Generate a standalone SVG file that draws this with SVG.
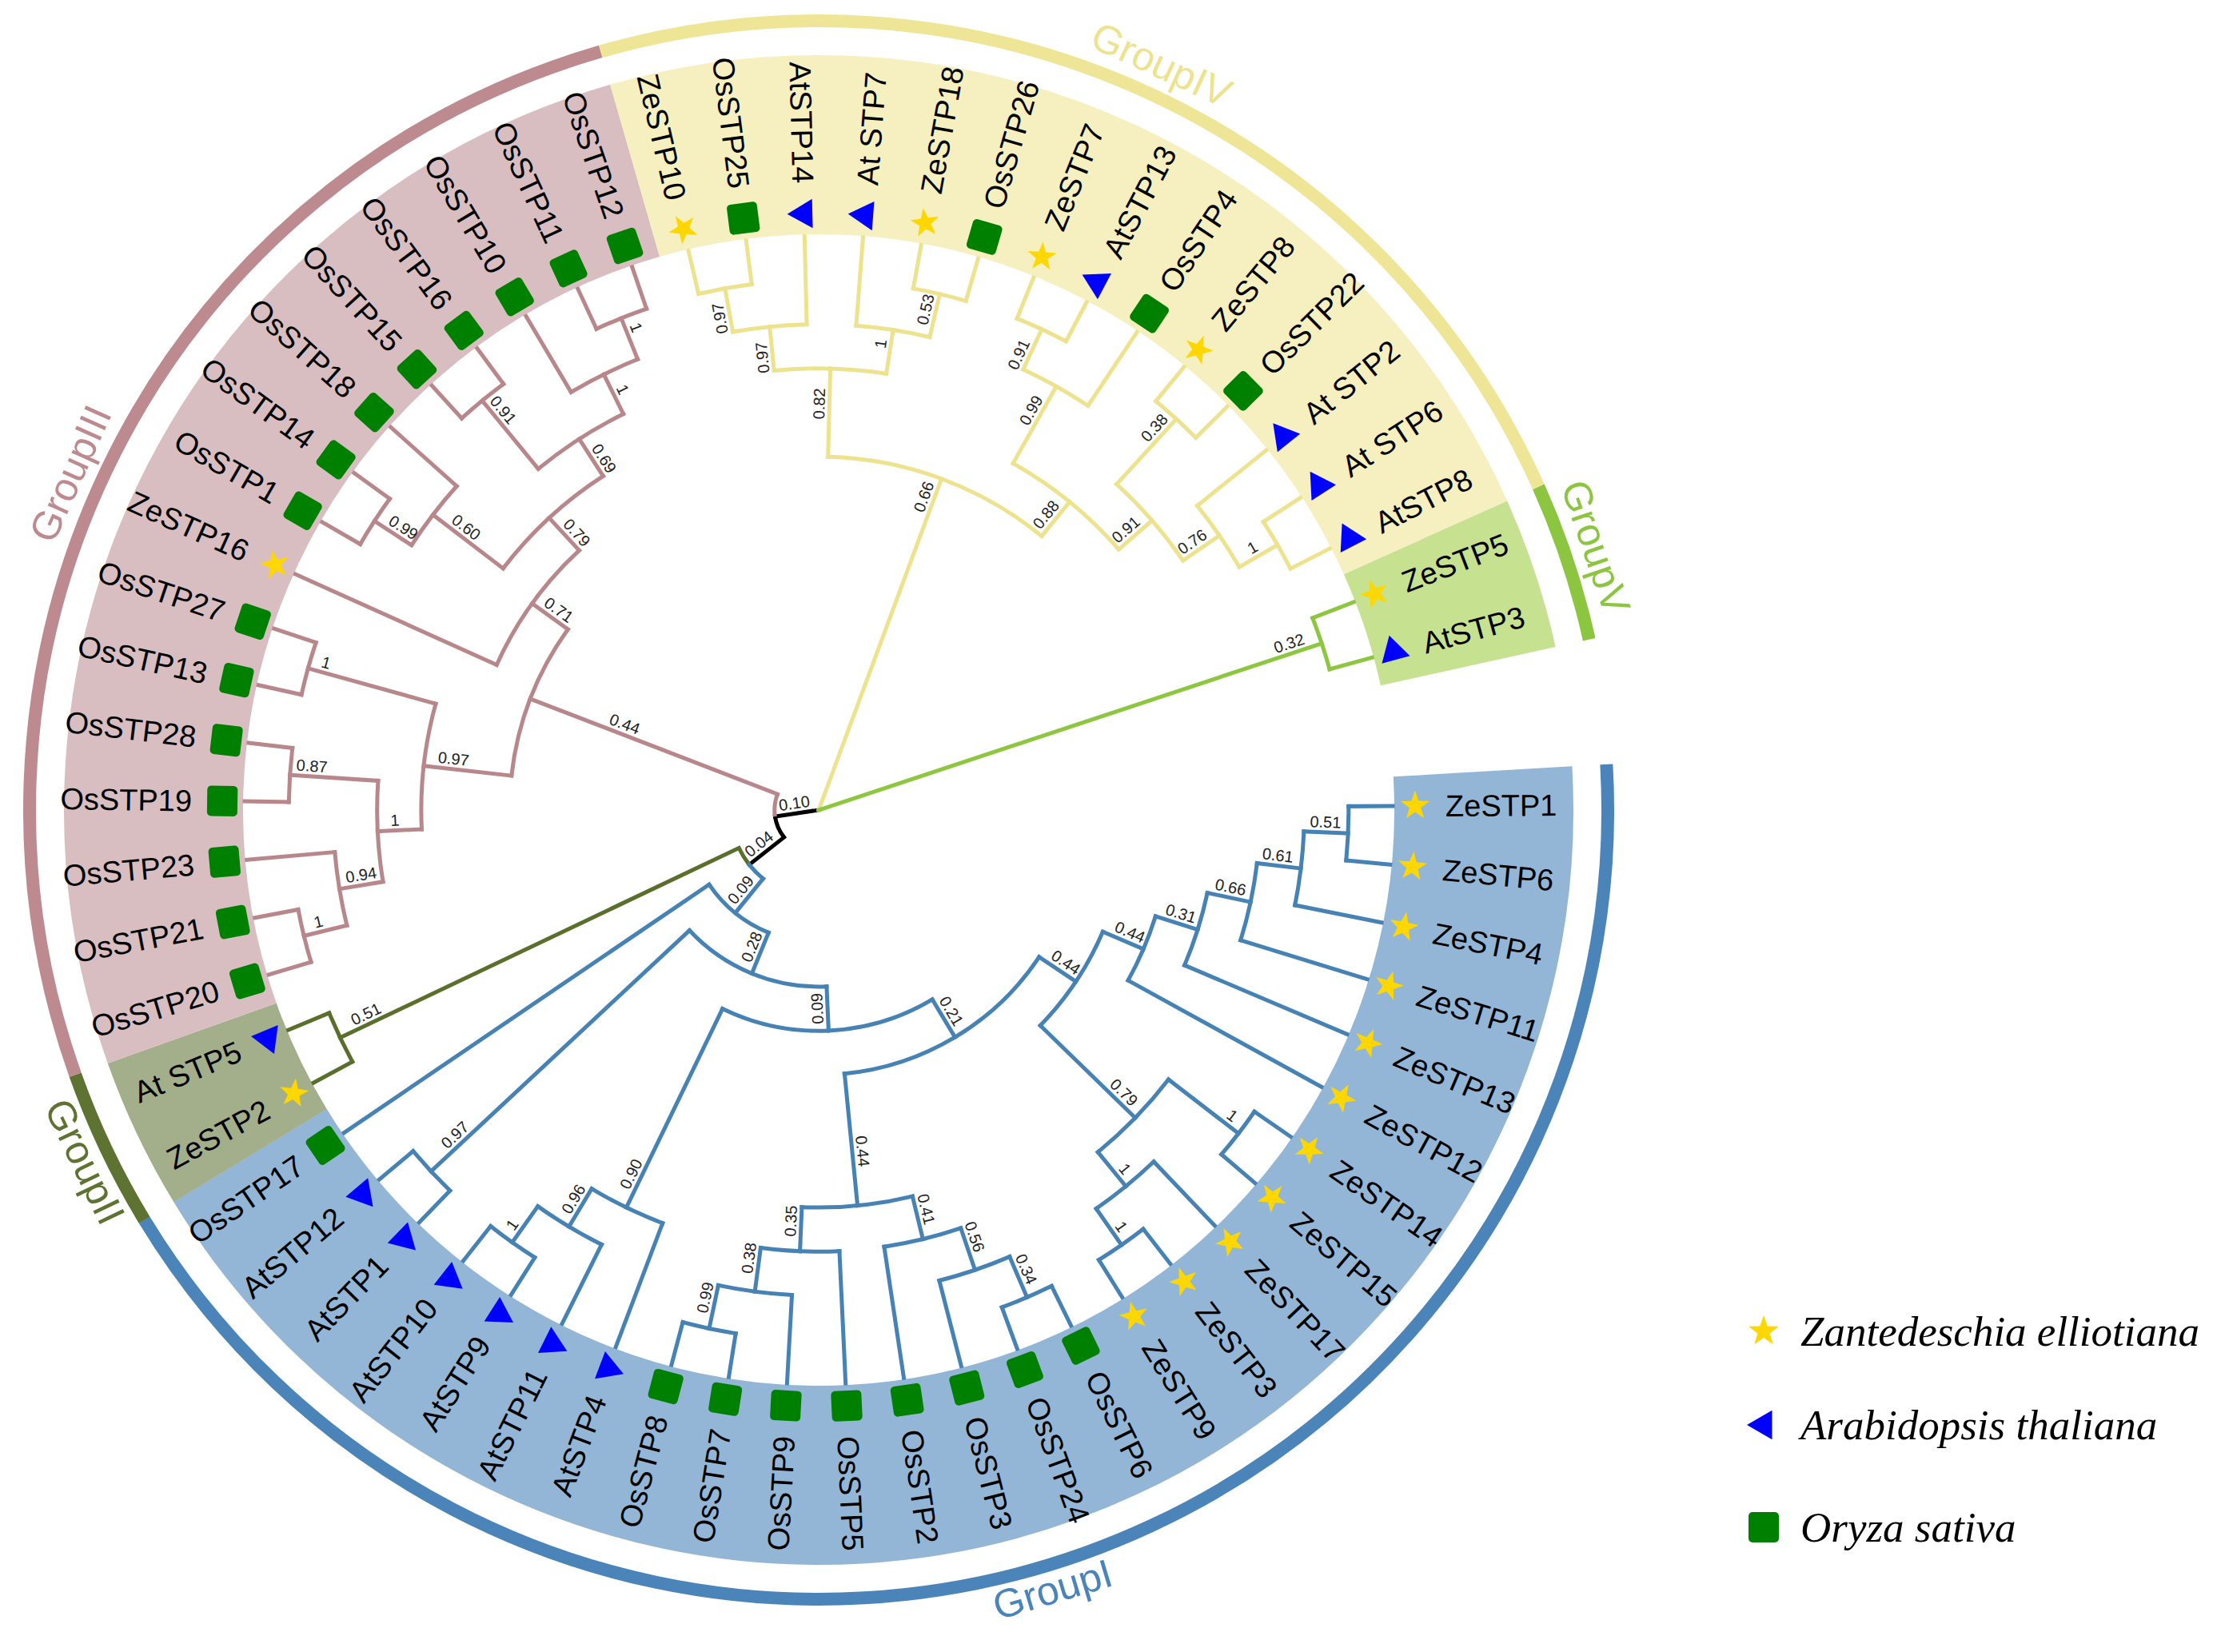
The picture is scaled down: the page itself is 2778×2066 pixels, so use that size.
<svg xmlns="http://www.w3.org/2000/svg" width="2778" height="2066" viewBox="0 0 2778 2066">
<style>
.lbl{font-family:"Liberation Sans",Arial,sans-serif;font-size:38px;fill:#000}
.sup{font-family:"Liberation Sans",Arial,sans-serif;font-size:20px;fill:#222;text-anchor:middle}
.grp{font-family:"Liberation Sans",Arial,sans-serif;font-size:50px;text-anchor:middle}
.leg{font-family:"Liberation Serif","Times New Roman",serif;font-style:italic;font-size:53px;fill:#000}
.L{text-anchor:end}
</style>
<defs>
<polygon id="star" points="0,-19 4.47,-6.15 18.07,-5.87 7.23,2.35 11.17,15.37 0,7.6 -11.17,15.37 -7.23,2.35 -18.07,-5.87 -4.47,-6.15" fill="#FFD700"/>
<polygon id="tri" points="0,-21 18.2,10.5 -18.2,10.5" fill="#0000FF"/>
<rect id="sq" x="-19" y="-19" width="38" height="38" rx="5" fill="#008000"/>
</defs>
<rect width="2778" height="2066" fill="#fff"/>
<g transform="translate(1024,1013)">
<g id="highlights" fill="none" stroke-width="224">
<circle r="832" stroke="#93B6D6" stroke-dasharray="2207.6 6000" transform="rotate(-3.32)"/>
<circle r="832" stroke="#A3AE8A" stroke-dasharray="169.75 6000" transform="rotate(148.71)"/>
<circle r="832" stroke="#D9BEC1" stroke-dasharray="1358.6 6000" transform="rotate(160.40)"/>
<circle r="832" stroke="#F6EFBF" stroke-dasharray="1188.8 6000" transform="rotate(253.96)"/>
<circle r="832" stroke="#C6E290" stroke-dasharray="169.75 6000" transform="rotate(335.83)"/>
</g>
<g id="rings" fill="none" stroke-width="16">
<circle r="987" stroke="#4A84B8" stroke-dasharray="2618.9 7000" transform="rotate(-3.32)"/>
<circle r="987" stroke="#5E7331" stroke-dasharray="201.4 7000" transform="rotate(148.71)"/>
<circle r="987" stroke="#BC8A8F" stroke-dasharray="1611.7 7000" transform="rotate(160.40)"/>
<circle r="987" stroke="#EEE596" stroke-dasharray="1410.3 7000" transform="rotate(253.96)"/>
<circle r="987" stroke="#8CC540" stroke-dasharray="201.4 7000" transform="rotate(335.83)"/>
</g>
<g id="group-labels">
<g transform="rotate(73.3)"><text class="grp" fill="#4A84B8" transform="translate(1022,0) rotate(-90)" y="13">GroupI</text></g>
<g transform="rotate(154.4)"><text class="grp" fill="#5E7331" transform="translate(1022,0) rotate(-90)" y="13">GroupII</text></g>
<g transform="rotate(204.2)"><text class="grp" fill="#BC8A8F" transform="translate(1022,0) rotate(90)" y="13">GroupIII</text></g>
<g transform="rotate(294.7)"><text class="grp" fill="#EDE38E" transform="translate(1022,0) rotate(90)" y="13">GroupIV</text></g>
<g transform="rotate(341.3)"><text class="grp" fill="#8CC540" transform="translate(1022,0) rotate(90)" y="13">GroupV</text></g>
</g>
<g id="connectors" fill="none" stroke-width="5" stroke-linecap="square">
<g stroke="#000">
<line x2="55.2" transform="rotate(171.44)"/>
<line x1="55.2" x2="110.5" transform="rotate(141.79)"/>
<circle r="55.2" stroke-dasharray="28.56 9999" stroke-linecap="butt" transform="rotate(141.79)"/>
</g>
<g stroke="#B8878C">
<circle r="55.2" stroke-dasharray="28.56 9999" stroke-linecap="butt" transform="rotate(171.44)"/>
<line x1="55.2" x2="386.6" transform="rotate(201.08)"/>
<circle r="386.6" stroke-dasharray="198.43 9999" transform="rotate(186.37)"/>
<line x1="386.6" x2="497.1" transform="rotate(186.37)"/>
<line x1="386.6" x2="441.8" transform="rotate(215.78)"/>
<circle r="497.1" stroke-dasharray="158.51 9999" transform="rotate(177.23)"/>
<line x1="497.1" x2="552.3" transform="rotate(177.23)"/>
<line x1="497.1" x2="662.8" transform="rotate(195.50)"/>
<circle r="662.8" stroke-dasharray="67.67 9999" transform="rotate(192.57)"/>
<line x1="662.8" x2="718" transform="rotate(192.57)"/>
<line x1="662.8" x2="718" transform="rotate(198.42)"/>
<circle r="552.3" stroke-dasharray="126.75 9999" transform="rotate(170.65)"/>
<line x1="552.3" x2="607.5" transform="rotate(170.65)"/>
<line x1="552.3" x2="662.8" transform="rotate(183.80)"/>
<circle r="662.8" stroke-dasharray="67.67 9999" transform="rotate(180.87)"/>
<line x1="662.8" x2="718" transform="rotate(180.87)"/>
<line x1="662.8" x2="718" transform="rotate(186.72)"/>
<circle r="607.5" stroke-dasharray="92.99 9999" transform="rotate(166.26)"/>
<line x1="607.5" x2="662.8" transform="rotate(166.26)"/>
<line x1="607.5" x2="718" transform="rotate(175.03)"/>
<circle r="662.8" stroke-dasharray="67.67 9999" transform="rotate(163.33)"/>
<line x1="662.8" x2="718" transform="rotate(163.33)"/>
<line x1="662.8" x2="718" transform="rotate(169.18)"/>
<circle r="441.8" stroke-dasharray="177.66 9999" transform="rotate(204.26)"/>
<line x1="441.8" x2="718" transform="rotate(204.26)"/>
<line x1="441.8" x2="497.1" transform="rotate(227.30)"/>
<circle r="497.1" stroke-dasharray="171.18 9999" transform="rotate(217.43)"/>
<line x1="497.1" x2="607.5" transform="rotate(217.43)"/>
<line x1="497.1" x2="552.3" transform="rotate(237.16)"/>
<circle r="607.5" stroke-dasharray="92.99 9999" transform="rotate(213.04)"/>
<line x1="607.5" x2="662.8" transform="rotate(213.04)"/>
<line x1="607.5" x2="718" transform="rotate(221.81)"/>
<circle r="662.8" stroke-dasharray="67.67 9999" transform="rotate(210.11)"/>
<line x1="662.8" x2="718" transform="rotate(210.11)"/>
<line x1="662.8" x2="718" transform="rotate(215.96)"/>
<circle r="552.3" stroke-dasharray="126.85 9999" transform="rotate(230.58)"/>
<line x1="552.3" x2="662.8" transform="rotate(230.58)"/>
<line x1="552.3" x2="607.5" transform="rotate(243.74)"/>
<circle r="662.8" stroke-dasharray="67.67 9999" transform="rotate(227.65)"/>
<line x1="662.8" x2="718" transform="rotate(227.65)"/>
<line x1="662.8" x2="718" transform="rotate(233.50)"/>
<circle r="607.5" stroke-dasharray="92.99 9999" transform="rotate(239.35)"/>
<line x1="607.5" x2="718" transform="rotate(239.35)"/>
<line x1="607.5" x2="662.8" transform="rotate(248.12)"/>
<circle r="662.8" stroke-dasharray="67.56 9999" transform="rotate(245.20)"/>
<line x1="662.8" x2="718" transform="rotate(245.20)"/>
<line x1="662.8" x2="718" transform="rotate(251.04)"/>
</g>
<g stroke="#5B6F2D">
<circle r="110.5" stroke-dasharray="24.63 9999" stroke-linecap="butt" transform="rotate(141.79)"/>
<line x1="110.5" x2="662.8" transform="rotate(154.56)"/>
<circle r="662.8" stroke-dasharray="67.56 9999" transform="rotate(151.64)"/>
<line x1="662.8" x2="718" transform="rotate(151.64)"/>
<line x1="662.8" x2="718" transform="rotate(157.48)"/>
</g>
<g stroke="#4682B4">
<circle r="110.5" stroke-dasharray="24.65 9999" transform="rotate(129.01)"/>
<line x1="110.5" x2="165.7" transform="rotate(129.01)"/>
<circle r="165.7" stroke-dasharray="97.06 9999" transform="rotate(112.23)"/>
<line x1="165.7" x2="220.9" transform="rotate(112.23)"/>
<line x1="165.7" x2="718" transform="rotate(145.79)"/>
<circle r="220.9" stroke-dasharray="191.17 9999" transform="rotate(87.43)"/>
<line x1="220.9" x2="276.2" transform="rotate(87.43)"/>
<line x1="220.9" x2="662.8" transform="rotate(137.02)"/>
<circle r="662.8" stroke-dasharray="67.67 9999" transform="rotate(134.09)"/>
<line x1="662.8" x2="718" transform="rotate(134.09)"/>
<line x1="662.8" x2="718" transform="rotate(139.94)"/>
<circle r="276.2" stroke-dasharray="273.74 9999" transform="rotate(59.04)"/>
<line x1="276.2" x2="331.4" transform="rotate(59.04)"/>
<line x1="276.2" x2="552.3" transform="rotate(115.82)"/>
<circle r="552.3" stroke-dasharray="98.70 9999" transform="rotate(110.70)"/>
<line x1="552.3" x2="718" transform="rotate(110.70)"/>
<line x1="552.3" x2="607.5" transform="rotate(120.94)"/>
<circle r="607.5" stroke-dasharray="93.09 9999" transform="rotate(116.55)"/>
<line x1="607.5" x2="718" transform="rotate(116.55)"/>
<line x1="607.5" x2="662.8" transform="rotate(125.33)"/>
<circle r="662.8" stroke-dasharray="67.67 9999" transform="rotate(122.40)"/>
<line x1="662.8" x2="718" transform="rotate(122.40)"/>
<line x1="662.8" x2="718" transform="rotate(128.25)"/>
<circle r="331.4" stroke-dasharray="293.25 9999" transform="rotate(33.69)"/>
<line x1="331.4" x2="386.6" transform="rotate(33.69)"/>
<line x1="331.4" x2="497.1" transform="rotate(84.39)"/>
<circle r="497.1" stroke-dasharray="139.51 9999" transform="rotate(76.35)"/>
<line x1="497.1" x2="552.3" transform="rotate(76.35)"/>
<line x1="497.1" x2="552.3" transform="rotate(92.43)"/>
<circle r="552.3" stroke-dasharray="98.70 9999" transform="rotate(71.23)"/>
<line x1="552.3" x2="607.5" transform="rotate(71.23)"/>
<line x1="552.3" x2="718" transform="rotate(81.47)"/>
<circle r="607.5" stroke-dasharray="92.99 9999" transform="rotate(66.85)"/>
<line x1="607.5" x2="662.8" transform="rotate(66.85)"/>
<line x1="607.5" x2="718" transform="rotate(75.62)"/>
<circle r="662.8" stroke-dasharray="67.67 9999" transform="rotate(63.92)"/>
<line x1="662.8" x2="718" transform="rotate(63.92)"/>
<line x1="662.8" x2="718" transform="rotate(69.77)"/>
<circle r="552.3" stroke-dasharray="98.70 9999" transform="rotate(87.31)"/>
<line x1="552.3" x2="718" transform="rotate(87.31)"/>
<line x1="552.3" x2="607.5" transform="rotate(97.55)"/>
<circle r="607.5" stroke-dasharray="92.99 9999" transform="rotate(93.16)"/>
<line x1="607.5" x2="718" transform="rotate(93.16)"/>
<line x1="607.5" x2="662.8" transform="rotate(101.93)"/>
<circle r="662.8" stroke-dasharray="67.67 9999" transform="rotate(99.01)"/>
<line x1="662.8" x2="718" transform="rotate(99.01)"/>
<line x1="662.8" x2="718" transform="rotate(104.86)"/>
<circle r="386.6" stroke-dasharray="141.75 9999" transform="rotate(23.18)"/>
<line x1="386.6" x2="441.8" transform="rotate(23.18)"/>
<line x1="386.6" x2="552.3" transform="rotate(44.19)"/>
<circle r="441.8" stroke-dasharray="87.37 9999" transform="rotate(17.51)"/>
<line x1="441.8" x2="497.1" transform="rotate(17.51)"/>
<line x1="441.8" x2="718" transform="rotate(28.84)"/>
<circle r="497.1" stroke-dasharray="95.09 9999" transform="rotate(12.03)"/>
<line x1="497.1" x2="552.3" transform="rotate(12.03)"/>
<line x1="497.1" x2="718" transform="rotate(22.99)"/>
<circle r="552.3" stroke-dasharray="98.61 9999" transform="rotate(6.91)"/>
<line x1="552.3" x2="607.5" transform="rotate(6.91)"/>
<line x1="552.3" x2="718" transform="rotate(17.14)"/>
<circle r="607.5" stroke-dasharray="92.99 9999" transform="rotate(2.53)"/>
<line x1="607.5" x2="662.8" transform="rotate(2.53)"/>
<line x1="607.5" x2="718" transform="rotate(11.30)"/>
<circle r="662.8" stroke-dasharray="67.67 9999" transform="rotate(-0.40)"/>
<line x1="662.8" x2="718" transform="rotate(-0.40)"/>
<line x1="662.8" x2="718" transform="rotate(5.45)"/>
<circle r="552.3" stroke-dasharray="126.85 9999" transform="rotate(37.61)"/>
<line x1="552.3" x2="662.8" transform="rotate(37.61)"/>
<line x1="552.3" x2="607.5" transform="rotate(50.77)"/>
<circle r="662.8" stroke-dasharray="67.56 9999" transform="rotate(34.69)"/>
<line x1="662.8" x2="718" transform="rotate(34.69)"/>
<line x1="662.8" x2="718" transform="rotate(40.53)"/>
<circle r="607.5" stroke-dasharray="92.99 9999" transform="rotate(46.38)"/>
<line x1="607.5" x2="718" transform="rotate(46.38)"/>
<line x1="607.5" x2="662.8" transform="rotate(55.15)"/>
<circle r="662.8" stroke-dasharray="67.67 9999" transform="rotate(52.23)"/>
<line x1="662.8" x2="718" transform="rotate(52.23)"/>
<line x1="662.8" x2="718" transform="rotate(58.08)"/>
</g>
<g stroke="#EDE38E">
<line x2="441.8" transform="rotate(290.34)"/>
<circle r="441.8" stroke-dasharray="290.24 9999" transform="rotate(271.52)"/>
<line x1="441.8" x2="552.3" transform="rotate(271.52)"/>
<line x1="441.8" x2="497.1" transform="rotate(309.16)"/>
<circle r="552.3" stroke-dasharray="140.83 9999" transform="rotate(264.21)"/>
<line x1="552.3" x2="607.5" transform="rotate(264.21)"/>
<line x1="552.3" x2="607.5" transform="rotate(278.82)"/>
<circle r="607.5" stroke-dasharray="92.99 9999" transform="rotate(259.82)"/>
<line x1="607.5" x2="662.8" transform="rotate(259.82)"/>
<line x1="607.5" x2="718" transform="rotate(268.59)"/>
<circle r="662.8" stroke-dasharray="67.67 9999" transform="rotate(256.89)"/>
<line x1="662.8" x2="718" transform="rotate(256.89)"/>
<line x1="662.8" x2="718" transform="rotate(262.74)"/>
<circle r="607.5" stroke-dasharray="93.09 9999" transform="rotate(274.43)"/>
<line x1="607.5" x2="718" transform="rotate(274.43)"/>
<line x1="607.5" x2="662.8" transform="rotate(283.21)"/>
<circle r="662.8" stroke-dasharray="67.67 9999" transform="rotate(280.28)"/>
<line x1="662.8" x2="718" transform="rotate(280.28)"/>
<line x1="662.8" x2="718" transform="rotate(286.13)"/>
<circle r="497.1" stroke-dasharray="171.26 9999" transform="rotate(299.29)"/>
<line x1="497.1" x2="607.5" transform="rotate(299.29)"/>
<line x1="497.1" x2="552.3" transform="rotate(319.03)"/>
<circle r="607.5" stroke-dasharray="92.99 9999" transform="rotate(294.90)"/>
<line x1="607.5" x2="662.8" transform="rotate(294.90)"/>
<line x1="607.5" x2="718" transform="rotate(303.67)"/>
<circle r="662.8" stroke-dasharray="67.56 9999" transform="rotate(291.98)"/>
<line x1="662.8" x2="718" transform="rotate(291.98)"/>
<line x1="662.8" x2="718" transform="rotate(297.82)"/>
<circle r="552.3" stroke-dasharray="126.75 9999" transform="rotate(312.45)"/>
<line x1="552.3" x2="662.8" transform="rotate(312.45)"/>
<line x1="552.3" x2="607.5" transform="rotate(325.60)"/>
<circle r="662.8" stroke-dasharray="67.67 9999" transform="rotate(309.52)"/>
<line x1="662.8" x2="718" transform="rotate(309.52)"/>
<line x1="662.8" x2="718" transform="rotate(315.37)"/>
<circle r="607.5" stroke-dasharray="93.09 9999" transform="rotate(321.21)"/>
<line x1="607.5" x2="718" transform="rotate(321.21)"/>
<line x1="607.5" x2="662.8" transform="rotate(329.99)"/>
<circle r="662.8" stroke-dasharray="67.67 9999" transform="rotate(327.06)"/>
<line x1="662.8" x2="718" transform="rotate(327.06)"/>
<line x1="662.8" x2="718" transform="rotate(332.91)"/>
</g>
<g stroke="#8DC63F">
<line x2="662.8" transform="rotate(341.68)"/>
<circle r="662.8" stroke-dasharray="67.56 9999" transform="rotate(338.76)"/>
<line x1="662.8" x2="718" transform="rotate(338.76)"/>
<line x1="662.8" x2="718" transform="rotate(344.60)"/>
</g>
</g>
<g id="support-values">
<text class="sup" transform="rotate(2.53)" x="634" y="-6">0.51</text>
<text class="sup" transform="rotate(6.91)" x="577" y="-6">0.61</text>
<text class="sup" transform="rotate(12.03)" x="524" y="-6">0.66</text>
<text class="sup" transform="rotate(17.51)" x="471" y="-6">0.31</text>
<text class="sup" transform="rotate(23.18)" x="418" y="-6">0.44</text>
<text class="sup" transform="rotate(33.69)" x="363" y="-6">0.44</text>
<text class="sup" transform="rotate(44.19)" x="520" y="-6">0.79</text>
<text class="sup" transform="rotate(37.61)" x="643" y="-6">1</text>
<text class="sup" transform="rotate(50.77)" x="590" y="-6">1</text>
<text class="sup" transform="rotate(55.15)" x="644" y="-6">1</text>
<text class="sup" transform="rotate(59.04)" x="301" y="-6">0.21</text>
<text class="sup" transform="rotate(84.39)" x="430" y="-6">0.44</text>
<text class="sup" transform="rotate(76.35)" x="517" y="-6">0.41</text>
<text class="sup" transform="rotate(71.23)" x="568" y="-6">0.56</text>
<text class="sup" transform="rotate(66.85)" x="630" y="-6">0.34</text>
<text class="sup" transform="rotate(-87.57)" x="-515" y="-6">0.35</text>
<text class="sup" transform="rotate(-82.45)" x="-567" y="-6">0.38</text>
<text class="sup" transform="rotate(-78.07)" x="-626" y="-6">0.99</text>
<text class="sup" transform="rotate(-92.57)" x="-248" y="-6">0.09</text>
<text class="sup" transform="rotate(-64.18)" x="-512" y="-6">0.90</text>
<text class="sup" transform="rotate(-59.06)" x="-575" y="-6">0.96</text>
<text class="sup" transform="rotate(-54.67)" x="-645" y="-6">1</text>
<text class="sup" transform="rotate(-42.98)" x="-610" y="-6">0.97</text>
<text class="sup" transform="rotate(-67.77)" x="-190" y="-6">0.28</text>
<text class="sup" transform="rotate(-50.99)" x="-139" y="-6">0.09</text>
<text class="sup" transform="rotate(-38.21)" x="-85" y="-6">0.04</text>
<text class="sup" transform="rotate(-25.44)" x="-621" y="-6">0.51</text>
<text class="sup" transform="rotate(-8.56)" x="-29" y="-6">0.10</text>
<text class="sup" transform="rotate(21.08)" x="-265" y="-6">0.44</text>
<text class="sup" transform="rotate(35.78)" x="-410" y="-6">0.71</text>
<text class="sup" transform="rotate(6.37)" x="-461" y="-6">0.97</text>
<text class="sup" transform="rotate(-2.77)" x="-530" y="-6">1</text>
<text class="sup" transform="rotate(3.80)" x="-636" y="-6">0.87</text>
<text class="sup" transform="rotate(-9.35)" x="-578" y="-6">0.94</text>
<text class="sup" transform="rotate(-13.74)" x="-641" y="-6">1</text>
<text class="sup" transform="rotate(15.50)" x="-643" y="-6">1</text>
<text class="sup" transform="rotate(47.30)" x="-460" y="-6">0.79</text>
<text class="sup" transform="rotate(57.16)" x="-515" y="-6">0.69</text>
<text class="sup" transform="rotate(63.74)" x="-580" y="-6">1</text>
<text class="sup" transform="rotate(68.12)" x="-645" y="-6">1</text>
<text class="sup" transform="rotate(50.58)" x="-637" y="-6">0.91</text>
<text class="sup" transform="rotate(37.43)" x="-565" y="-6">0.60</text>
<text class="sup" transform="rotate(33.04)" x="-628" y="-6">0.99</text>
<text class="sup" transform="rotate(290.34)" x="413" y="-6">0.66</text>
<text class="sup" transform="rotate(271.52)" x="508" y="-6">0.82</text>
<text class="sup" transform="rotate(264.21)" x="570" y="-6">0.97</text>
<text class="sup" transform="rotate(259.82)" x="627" y="-6">0.97</text>
<text class="sup" transform="rotate(278.82)" x="588" y="-6">1</text>
<text class="sup" transform="rotate(283.21)" x="640" y="-6">0.53</text>
<text class="sup" transform="rotate(309.16)" x="466" y="-6">0.88</text>
<text class="sup" transform="rotate(299.29)" x="566" y="-6">0.99</text>
<text class="sup" transform="rotate(294.90)" x="622" y="-6">0.91</text>
<text class="sup" transform="rotate(319.03)" x="520" y="-6">0.91</text>
<text class="sup" transform="rotate(312.45)" x="636" y="-6">0.38</text>
<text class="sup" transform="rotate(325.60)" x="575" y="-6">0.76</text>
<text class="sup" transform="rotate(329.99)" x="634" y="-6">1</text>
<text class="sup" transform="rotate(341.68)" x="624" y="-6">0.32</text>
</g>
<g id="leaves">
<g id="ZeSTP1" transform="rotate(-0.40)"><use href="#star" x="746"/><text class="lbl" x="784" y="13.5">ZeSTP1</text></g>
<g id="ZeSTP6" transform="rotate(5.45)"><use href="#star" x="746"/><text class="lbl" x="784" y="13.5">ZeSTP6</text></g>
<g id="ZeSTP4" transform="rotate(11.30)"><use href="#star" x="746"/><text class="lbl" x="784" y="13.5">ZeSTP4</text></g>
<g id="ZeSTP11" transform="rotate(17.14)"><use href="#star" x="746"/><text class="lbl" x="784" y="13.5">ZeSTP11</text></g>
<g id="ZeSTP13" transform="rotate(22.99)"><use href="#star" x="746"/><text class="lbl" x="784" y="13.5">ZeSTP13</text></g>
<g id="ZeSTP12" transform="rotate(28.84)"><use href="#star" x="746"/><text class="lbl" x="784" y="13.5">ZeSTP12</text></g>
<g id="ZeSTP14" transform="rotate(34.69)"><use href="#star" x="746"/><text class="lbl" x="784" y="13.5">ZeSTP14</text></g>
<g id="ZeSTP15" transform="rotate(40.53)"><use href="#star" x="746"/><text class="lbl" x="784" y="13.5">ZeSTP15</text></g>
<g id="ZeSTP17" transform="rotate(46.38)"><use href="#star" x="746"/><text class="lbl" x="784" y="13.5">ZeSTP17</text></g>
<g id="ZeSTP3" transform="rotate(52.23)"><use href="#star" x="746"/><text class="lbl" x="784" y="13.5">ZeSTP3</text></g>
<g id="ZeSTP9" transform="rotate(58.08)"><use href="#star" x="746"/><text class="lbl" x="784" y="13.5">ZeSTP9</text></g>
<g id="OsSTP6" transform="rotate(63.92)"><use href="#sq" x="746"/><text class="lbl" x="784" y="13.5">OsSTP6</text></g>
<g id="OsSTP24" transform="rotate(69.77)"><use href="#sq" x="746"/><text class="lbl" x="784" y="13.5">OsSTP24</text></g>
<g id="OsSTP3" transform="rotate(75.62)"><use href="#sq" x="746"/><text class="lbl" x="784" y="13.5">OsSTP3</text></g>
<g id="OsSTP2" transform="rotate(81.47)"><use href="#sq" x="746"/><text class="lbl" x="784" y="13.5">OsSTP2</text></g>
<g id="OsSTP5" transform="rotate(87.31)"><use href="#sq" x="746"/><text class="lbl" x="784" y="13.5">OsSTP5</text></g>
<g id="OsSTP9" transform="rotate(93.16)"><use href="#sq" x="746"/><text class="lbl L" transform="rotate(180)" x="-784" y="13.5">OsSTP9</text></g>
<g id="OsSTP7" transform="rotate(99.01)"><use href="#sq" x="746"/><text class="lbl L" transform="rotate(180)" x="-784" y="13.5">OsSTP7</text></g>
<g id="OsSTP8" transform="rotate(104.86)"><use href="#sq" x="746"/><text class="lbl L" transform="rotate(180)" x="-784" y="13.5">OsSTP8</text></g>
<g id="AtSTP4" transform="rotate(110.70)"><use href="#tri" x="746"/><text class="lbl L" transform="rotate(180)" x="-784" y="13.5">AtSTP4</text></g>
<g id="AtSTP11" transform="rotate(116.55)"><use href="#tri" x="746"/><text class="lbl L" transform="rotate(180)" x="-784" y="13.5">AtSTP11</text></g>
<g id="AtSTP9" transform="rotate(122.40)"><use href="#tri" x="746"/><text class="lbl L" transform="rotate(180)" x="-784" y="13.5">AtSTP9</text></g>
<g id="AtSTP10" transform="rotate(128.25)"><use href="#tri" x="746"/><text class="lbl L" transform="rotate(180)" x="-784" y="13.5">AtSTP10</text></g>
<g id="AtSTP1" transform="rotate(134.09)"><use href="#tri" x="746"/><text class="lbl L" transform="rotate(180)" x="-784" y="13.5">AtSTP1</text></g>
<g id="AtSTP12" transform="rotate(139.94)"><use href="#tri" x="746"/><text class="lbl L" transform="rotate(180)" x="-784" y="13.5">AtSTP12</text></g>
<g id="OsSTP17" transform="rotate(145.79)"><use href="#sq" x="746"/><text class="lbl L" transform="rotate(180)" x="-784" y="13.5">OsSTP17</text></g>
<g id="ZeSTP2" transform="rotate(151.64)"><use href="#star" x="746"/><text class="lbl L" transform="rotate(180)" x="-784" y="13.5">ZeSTP2</text></g>
<g id="AtSTP5" transform="rotate(157.48)"><use href="#tri" x="746"/><text class="lbl L" transform="rotate(180)" x="-784" y="13.5">At STP5</text></g>
<g id="OsSTP20" transform="rotate(163.33)"><use href="#sq" x="746"/><text class="lbl L" transform="rotate(180)" x="-784" y="13.5">OsSTP20</text></g>
<g id="OsSTP21" transform="rotate(169.18)"><use href="#sq" x="746"/><text class="lbl L" transform="rotate(180)" x="-784" y="13.5">OsSTP21</text></g>
<g id="OsSTP23" transform="rotate(175.03)"><use href="#sq" x="746"/><text class="lbl L" transform="rotate(180)" x="-784" y="13.5">OsSTP23</text></g>
<g id="OsSTP19" transform="rotate(180.87)"><use href="#sq" x="746"/><text class="lbl L" transform="rotate(180)" x="-784" y="13.5">OsSTP19</text></g>
<g id="OsSTP28" transform="rotate(186.72)"><use href="#sq" x="746"/><text class="lbl L" transform="rotate(180)" x="-784" y="13.5">OsSTP28</text></g>
<g id="OsSTP13" transform="rotate(192.57)"><use href="#sq" x="746"/><text class="lbl L" transform="rotate(180)" x="-784" y="13.5">OsSTP13</text></g>
<g id="OsSTP27" transform="rotate(198.42)"><use href="#sq" x="746"/><text class="lbl L" transform="rotate(180)" x="-784" y="13.5">OsSTP27</text></g>
<g id="ZeSTP16" transform="rotate(204.26)"><use href="#star" x="746"/><text class="lbl L" transform="rotate(180)" x="-784" y="13.5">ZeSTP16</text></g>
<g id="OsSTP1" transform="rotate(210.11)"><use href="#sq" x="746"/><text class="lbl L" transform="rotate(180)" x="-784" y="13.5">OsSTP1</text></g>
<g id="OsSTP14" transform="rotate(215.96)"><use href="#sq" x="746"/><text class="lbl L" transform="rotate(180)" x="-784" y="13.5">OsSTP14</text></g>
<g id="OsSTP18" transform="rotate(221.81)"><use href="#sq" x="746"/><text class="lbl L" transform="rotate(180)" x="-784" y="13.5">OsSTP18</text></g>
<g id="OsSTP15" transform="rotate(227.65)"><use href="#sq" x="746"/><text class="lbl L" transform="rotate(180)" x="-784" y="13.5">OsSTP15</text></g>
<g id="OsSTP16" transform="rotate(233.50)"><use href="#sq" x="746"/><text class="lbl L" transform="rotate(180)" x="-784" y="13.5">OsSTP16</text></g>
<g id="OsSTP10" transform="rotate(239.35)"><use href="#sq" x="746"/><text class="lbl L" transform="rotate(180)" x="-784" y="13.5">OsSTP10</text></g>
<g id="OsSTP11" transform="rotate(245.20)"><use href="#sq" x="746"/><text class="lbl L" transform="rotate(180)" x="-784" y="13.5">OsSTP11</text></g>
<g id="OsSTP12" transform="rotate(251.04)"><use href="#sq" x="746"/><text class="lbl L" transform="rotate(180)" x="-784" y="13.5">OsSTP12</text></g>
<g id="ZeSTP10" transform="rotate(256.89)"><use href="#star" x="746"/><text class="lbl L" transform="rotate(180)" x="-784" y="13.5">ZeSTP10</text></g>
<g id="OsSTP25" transform="rotate(262.74)"><use href="#sq" x="746"/><text class="lbl L" transform="rotate(180)" x="-784" y="13.5">OsSTP25</text></g>
<g id="AtSTP14" transform="rotate(268.59)"><use href="#tri" x="746"/><text class="lbl L" transform="rotate(180)" x="-784" y="13.5">AtSTP14</text></g>
<g id="AtSTP7" transform="rotate(274.43)"><use href="#tri" x="746"/><text class="lbl" x="784" y="13.5">At STP7</text></g>
<g id="ZeSTP18" transform="rotate(280.28)"><use href="#star" x="746"/><text class="lbl" x="784" y="13.5">ZeSTP18</text></g>
<g id="OsSTP26" transform="rotate(286.13)"><use href="#sq" x="746"/><text class="lbl" x="784" y="13.5">OsSTP26</text></g>
<g id="ZeSTP7" transform="rotate(291.98)"><use href="#star" x="746"/><text class="lbl" x="784" y="13.5">ZeSTP7</text></g>
<g id="AtSTP13" transform="rotate(297.82)"><use href="#tri" x="746"/><text class="lbl" x="784" y="13.5">AtSTP13</text></g>
<g id="OsSTP4" transform="rotate(303.67)"><use href="#sq" x="746"/><text class="lbl" x="784" y="13.5">OsSTP4</text></g>
<g id="ZeSTP8" transform="rotate(309.52)"><use href="#star" x="746"/><text class="lbl" x="784" y="13.5">ZeSTP8</text></g>
<g id="OsSTP22" transform="rotate(315.37)"><use href="#sq" x="746"/><text class="lbl" x="784" y="13.5">OsSTP22</text></g>
<g id="AtSTP2" transform="rotate(321.21)"><use href="#tri" x="746"/><text class="lbl" x="784" y="13.5">At STP2</text></g>
<g id="AtSTP6" transform="rotate(327.06)"><use href="#tri" x="746"/><text class="lbl" x="784" y="13.5">At STP6</text></g>
<g id="AtSTP8" transform="rotate(332.91)"><use href="#tri" x="746"/><text class="lbl" x="784" y="13.5">AtSTP8</text></g>
<g id="ZeSTP5" transform="rotate(338.76)"><use href="#star" x="746"/><text class="lbl" x="784" y="13.5">ZeSTP5</text></g>
<g id="AtSTP3" transform="rotate(344.60)"><use href="#tri" x="746"/><text class="lbl" x="784" y="13.5">AtSTP3</text></g>
</g>
</g>
<g id="legend">
<use href="#star" transform="translate(2206,1665) scale(1.05)"/>
<text class="leg" x="2252" y="1683">Zantedeschia elliotiana</text>
<use href="#tri" transform="translate(2206,1782) rotate(-90)"/>
<text class="leg" x="2252" y="1800">Arabidopsis thaliana</text>
<use href="#sq" transform="translate(2206,1910)"/>
<text class="leg" x="2252" y="1928">Oryza sativa</text>
</g>
</svg>
